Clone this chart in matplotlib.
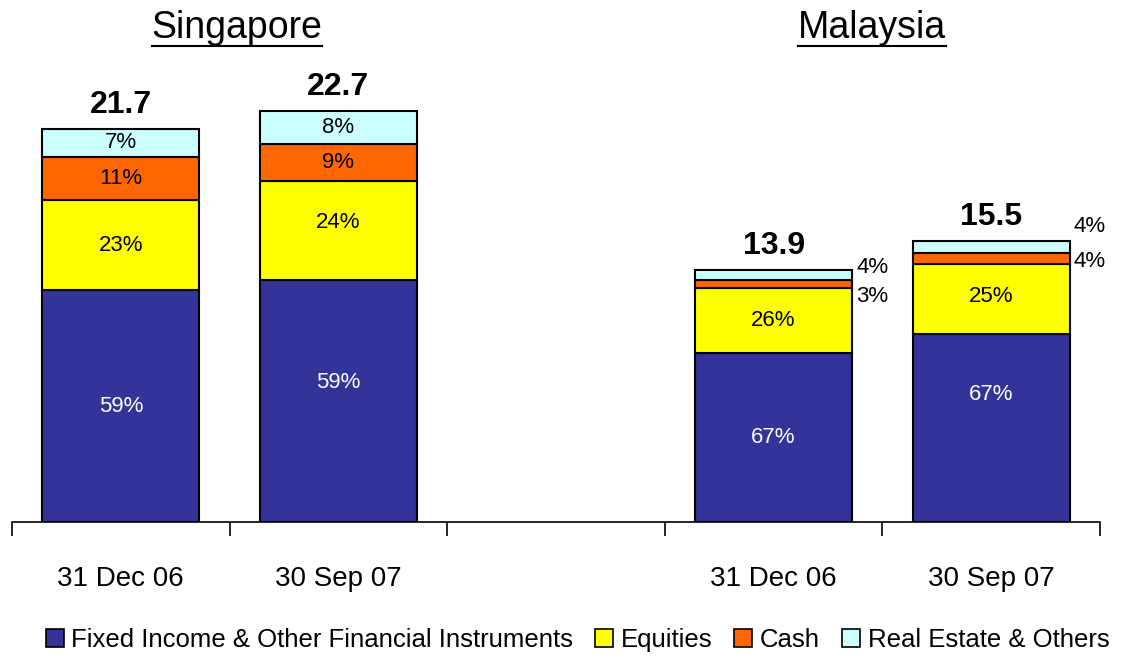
import matplotlib
matplotlib.use('Agg')
import matplotlib.pyplot as plt
from matplotlib.patches import Patch
from matplotlib.lines import Line2D
import numpy as np

plt.rcParams['font.family'] = ['Liberation Sans', 'DejaVu Sans']

# data
dates = ['31 Dec 06', '30 Sep 07', '31 Dec 06', '30 Sep 07']
slots = [0, 1, 3, 4]          # slot 2 is the gap between countries
totals = [21.7, 22.7, 13.9, 15.5]
series = ['Fixed Income & Other Financial Instruments', 'Equities', 'Cash',
          'Real Estate & Others']
pct_fixed = [59, 59, 67, 67]
pct_equities = [23, 24, 26, 25]
pct_cash = [11, 9, 3, 4]
pct_real = [7, 8, 4, 4]
countries = ['Singapore', 'Malaysia']

colors = ['#333399', '#FFFF00', '#FF6600', '#CCFFFF']
text_colors = ['white', 'black', 'black', 'black']
# label nudges (series, bar) -> data units, the original isn't perfectly centred
nudge = {(0, 1): 1.0, (1, 1): 0.45, (0, 3): 1.85, (1, 3): 0.15}

fig = plt.figure(figsize=(11.24, 6.59), dpi=100)
ax = fig.add_axes([12/1124, (659-522)/659, 1088/1124, 452.5/659])

x = np.array(slots) + 0.5
tot = np.array(totals)
bottom = np.zeros(len(slots))
for k, pct in enumerate([pct_fixed, pct_equities, pct_cash, pct_real]):
    h = tot * np.array(pct) / 100
    ax.bar(x, h, width=0.72, bottom=bottom, color=colors[k],
           edgecolor='black', linewidth=1.5, label=series[k])
    for i in range(len(slots)):
        if h[i] > 1.0:
            ax.text(x[i], bottom[i] + h[i] / 2 + nudge.get((k, i), 0), f'{pct[i]}%',
                    ha='center', va='center', fontsize=16, color=text_colors[k])
    bottom += h

# small segments on Malaysia bars get labels outside
ax.text(x[2] + 0.38, bottom[2] - tot[2] * pct_real[2] / 100 * 0.2 + 0.25, f'{pct_real[2]}%',
        ha='left', va='center', fontsize=16)
ax.text(x[2] + 0.38, bottom[2] - tot[2] * (pct_real[2] + pct_cash[2]) / 100 - 0.45,
        f'{pct_cash[2]}%', ha='left', va='center', fontsize=16)
ax.text(x[3] + 0.38, bottom[3] + 0.85, f'{pct_real[3]}%', ha='left', va='center', fontsize=16)
ax.text(x[3] + 0.38, bottom[3] - tot[3] * (pct_real[3] + pct_cash[3]) / 100 + 0.15,
        f'{pct_cash[3]}%', ha='left', va='center', fontsize=16)

for i in range(len(slots)):
    ax.text(x[i], tot[i] + 0.5, f'{totals[i]}', ha='center', va='bottom',
            fontsize=23, fontweight='bold')

ax.set_xlim(0, 5)
ax.set_ylim(0, 25)
for s in ['top', 'right', 'left']:
    ax.spines[s].set_visible(False)
ax.spines['bottom'].set_linewidth(1.2)
ax.set_yticks([])
ax.set_xticks(np.arange(6))
ax.set_xticklabels([])
ax.tick_params(axis='x', which='major', length=10, width=1.2, direction='out')
ax.set_xticks(x, minor=True)
ax.set_xticklabels(dates, minor=True, fontsize=20)
ax.tick_params(axis='x', which='minor', length=0, pad=32)

# country titles, underlined
fig.canvas.draw()
renderer = fig.canvas.get_renderer()
for name, xc in zip(countries, [237/1124, 872/1124]):
    t = fig.text(xc, 1 - 28/659, name, ha='center', va='center', fontsize=27)
    bb = t.get_window_extent(renderer).transformed(fig.transFigure.inverted())
    fig.add_artist(Line2D([bb.x0, bb.x1], [1 - 46/659] * 2, color='black',
                          linewidth=1.5, transform=fig.transFigure))

handles = [Patch(facecolor=c, edgecolor='black', linewidth=1.2) for c in colors]
fig.legend(handles, series, loc='center', bbox_to_anchor=(0.5138, 1 - 640/659),
           ncol=4, frameon=False, fontsize=18.5, handlelength=0.7, handleheight=0.7,
           handletextpad=0.3, columnspacing=0.85, borderaxespad=0, borderpad=0)

fig.savefig('out.png', dpi=100)
